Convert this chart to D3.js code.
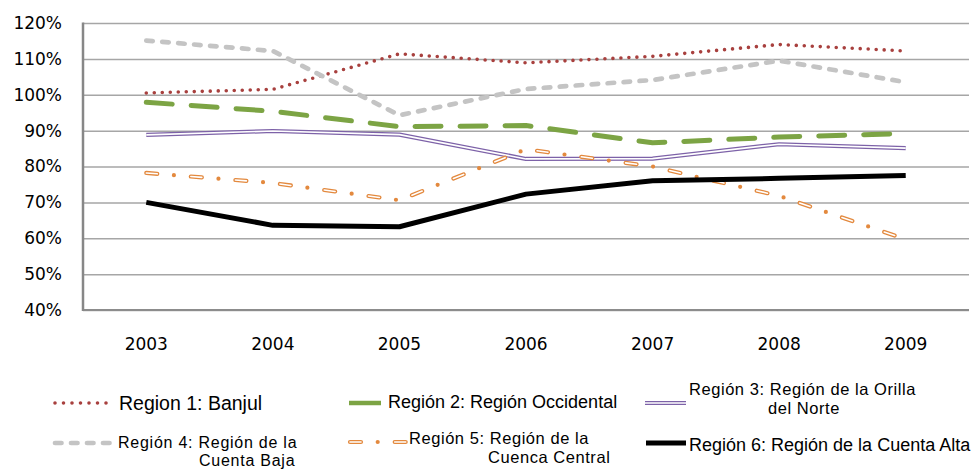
<!DOCTYPE html>
<html>
<head>
<meta charset="utf-8">
<script src="https://cdn.jsdelivr.net/npm/d3@7"></script>
<style>
  html, body { margin: 0; padding: 0; background: #fff; }
  svg { display: block; }
</style>
</head>
<body>
<svg id="chart" width="971" height="470"></svg>
<script>
// ---- Data ----
const years = ["2003", "2004", "2005", "2006", "2007", "2008", "2009"];
const yTicks = [0.4, 0.5, 0.6, 0.7, 0.8, 0.9, 1.0, 1.1, 1.2];

const region1 = [1.005, 1.015, 1.114, 1.089, 1.107, 1.140, 1.122];
const region2 = [0.979, 0.954, 0.911, 0.914, 0.866, 0.882, 0.892];
const region3 = [0.888, 0.899, 0.889, 0.821, 0.822, 0.862, 0.851];
const region4 = [1.151, 1.122, 0.943, 1.016, 1.041, 1.095, 1.035];
const region5 = [0.782, 0.754, 0.706, 0.848, 0.800, 0.718, 0.597];
const region6 = [0.700, 0.636, 0.632, 0.723, 0.760, 0.767, 0.775];

const seriesValues = [region1, region2, region3, region4, region5, region6];
const legendLabels = [
  ["Region 1: Banjul"],
  ["Región 2: Región Occidental"],
  ["Región 3: Región de la Orilla", "del Norte"],
  ["Región 4: Región de la", "Cuenta Baja"],
  ["Región 5: Región de la", "Cuenca Central"],
  ["Región 6: Región de la Cuenta Alta"]
];

// ---- Layout ----
const svg = d3.select("#chart");
const plot = { left: 83, right: 969, top: 23, bottom: 310 };

const x = d3.scaleBand().domain(years).range([plot.left, plot.right]);
const y = d3.scaleLinear().domain([0.4, 1.2]).range([plot.bottom, plot.top]);
const cx = d => x(d) + x.bandwidth() / 2;

// Gridlines + y labels
const yAxis = d3.axisLeft(y)
  .tickValues(yTicks)
  .tickSize(-(plot.right - plot.left))
  .tickPadding(21)
  .tickFormat(d3.format(".0%"));

const gy = svg.append("g")
  .attr("transform", `translate(${plot.left},0)`)
  .call(yAxis);
gy.select(".domain").remove();
gy.selectAll(".tick line")
  .attr("stroke", "#a6a6a6")
  .attr("stroke-width", 1.5);
gy.selectAll(".tick text")
  .attr("fill", "#000")
  .style("font-family", "'DejaVu Sans', sans-serif")
  .style("font-size", "17px");

// bottom baseline darker
svg.append("line")
  .attr("x1", plot.left).attr("x2", plot.right)
  .attr("y1", y(0.4)).attr("y2", y(0.4))
  .attr("stroke", "#8c8c8c").attr("stroke-width", 2);
// left axis line
svg.append("line")
  .attr("x1", plot.left).attr("x2", plot.left)
  .attr("y1", plot.top - 0.5).attr("y2", plot.bottom + 1)
  .attr("stroke", "#878787").attr("stroke-width", 2.5);

// X labels
const xAxis = d3.axisBottom(x).tickSize(0).tickPadding(28);
const gx = svg.append("g")
  .attr("transform", `translate(0,${plot.bottom})`)
  .call(xAxis);
gx.select(".domain").remove();
gx.selectAll(".tick text")
  .attr("fill", "#000")
  .style("font-family", "'DejaVu Sans', sans-serif")
  .style("font-size", "17px");

// ---- Styles ----
const styles = [
  [{ stroke: "#a8403e", width: 3.6, dash: "0 8", cap: "round" }],
  [{ stroke: "#7ca444", width: 5, dash: "26 19", cap: "round" }],
  [{ stroke: "#7d62a8", width: 4.2, dash: null, cap: "butt" },
   { stroke: "#ffffff", width: 1.7, dash: null, cap: "butt" }],
  [{ stroke: "#c4c4c4", width: 4.7, dash: "6.5 9.5", cap: "round" }],
  [{ stroke: "#e3893e", width: 4.2, dash: "11 16.7 0 17", cap: "round" },
   { stroke: "#ffffff", width: 1.6, dash: "11 33.7", cap: "round" }],
  [{ stroke: "#000000", width: 5, dash: null, cap: "butt" }]
];

const line = d3.line()
  .x((d, i) => cx(years[i]))
  .y(d => y(d));

seriesValues.forEach((vals, si) => {
  styles[si].forEach(st => {
    svg.append("path")
      .datum(vals)
      .attr("d", line)
      .attr("fill", "none")
      .attr("stroke", st.stroke)
      .attr("stroke-width", st.width)
      .attr("stroke-linecap", st.cap)
      .attr("stroke-linejoin", "round")
      .attr("stroke-dasharray", st.dash);
  });
});

// ---- Legend ----
const legendPos = [
  { x1: 55, x2: 106.5, sy: 403, tx: 119, lines: [{ dx: 0, y: 410 }], size: 19.5, ls: 0 },
  { x1: 349, x2: 381, sy: 403, tx: 388, lines: [{ dx: 0, y: 408 }], size: 18, ls: 0 },
  { x1: 645, x2: 686, sy: 403, tx: 689, lines: [{ dx: 0, y: 395 }, { dx: 79, y: 414 }], size: 16.5, ls: 0.55 },
  { x1: 55, x2: 111, sy: 443, tx: 118, lines: [{ dx: 0, y: 448 }, { dx: 81, y: 466 }], size: 16, ls: 0.75 },
  { x1: 350, x2: 405.7, sy: 442, tx: 409, lines: [{ dx: 0, y: 444 }, { dx: 79, y: 463 }], size: 16.5, ls: 0.55 },
  { x1: 646, x2: 686, sy: 443, tx: 689, lines: [{ dx: 0, y: 451 }], size: 18, ls: 0 }
];

const legendStyles = styles.map((s, i) => {
  if (i === 1) return [{ stroke: "#7ca444", width: 4.5, dash: null, cap: "butt" }];
  if (i === 0) return [{ stroke: "#a8403e", width: 3.6, dash: "0 8.5", cap: "round" }];
  if (i === 3) return [{ stroke: "#c4c4c4", width: 4.7, dash: "6.5 9.5", cap: "round" }];
  return s;
});

legendLabels.forEach((lbl, i) => {
  const p = legendPos[i];
  const g = svg.append("g");
  legendStyles[i].forEach(st => {
    g.append("line")
      .attr("x1", p.x1).attr("x2", p.x2)
      .attr("y1", p.sy).attr("y2", p.sy)
      .attr("stroke", st.stroke)
      .attr("stroke-width", st.width)
      .attr("stroke-linecap", st.cap)
      .attr("stroke-dasharray", st.dash);
  });
  lbl.forEach((t, li) => {
    g.append("text")
      .attr("x", p.tx + p.lines[li].dx)
      .attr("y", p.lines[li].y)
      .style("font-family", "'Liberation Sans', Arial, sans-serif")
      .style("font-size", p.size + "px")
      .style("letter-spacing", p.ls + "px")
      .attr("fill", "#000")
      .text(t);
  });
});
</script>
</body>
</html>
